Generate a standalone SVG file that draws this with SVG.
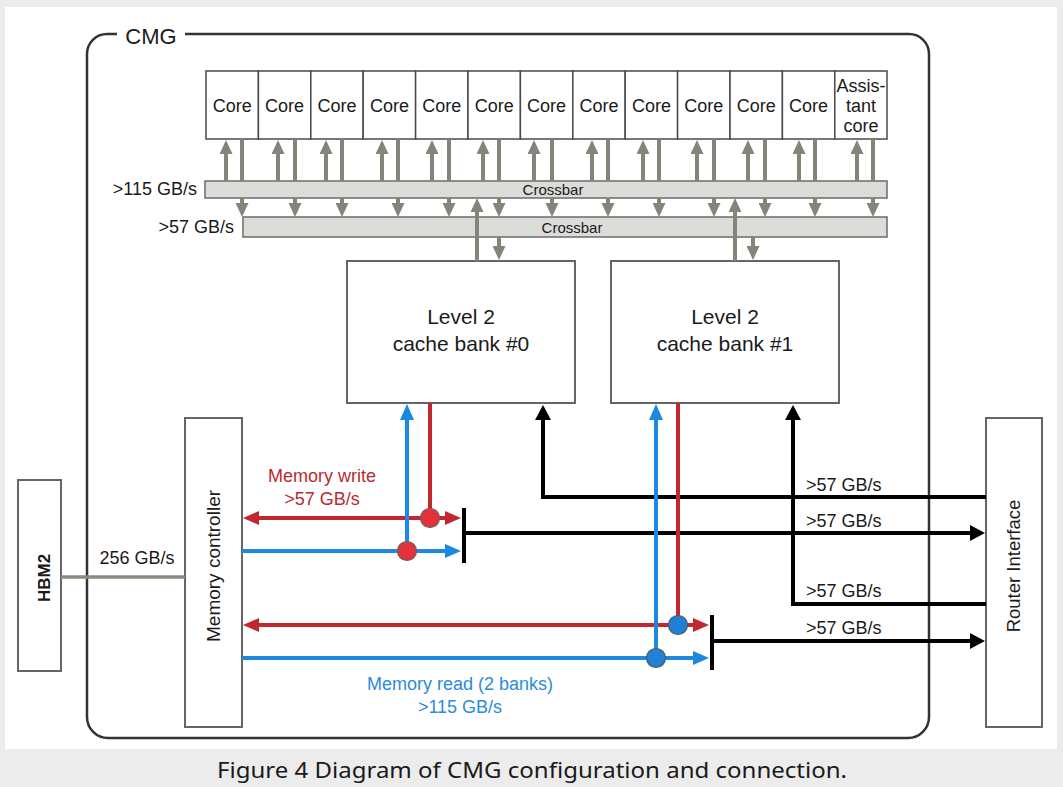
<svg xmlns="http://www.w3.org/2000/svg" width="1063" height="787" viewBox="0 0 1063 787">
<style>
  text { font-family: "Liberation Sans", Arial, sans-serif; fill: #1a1a1a; }
  .box { fill: #ffffff; stroke: #666666; stroke-width: 2; }
  .core { fill: #ffffff; stroke: #4a4a4a; stroke-width: 1.5; }
  .xbar { fill: #dcdcd9; stroke: #6b6b6b; stroke-width: 1.5; }
  .core-t { font-size: 18px; text-anchor: middle; }
  .lbl { font-size: 18px; }
  .g { fill: none; stroke: #84847b; stroke-width: 4; }
  .k { fill: none; stroke: #000000; stroke-width: 4; }
  .r { fill: none; stroke: #c1272d; stroke-width: 4; }
  .b { fill: none; stroke: #1d88e0; stroke-width: 4; }
  .ga { marker-end: url(#mg); }
  .ka { marker-end: url(#mk); }
  .ra { marker-end: url(#mr); }
  .ba { marker-end: url(#mb); }
  .rs { marker-start: url(#mrs); }
</style>
<defs>
  <marker id="mg" viewBox="0 0 14 13" refX="0" refY="6.5" markerWidth="14" markerHeight="13" markerUnits="userSpaceOnUse" orient="auto"><path d="M0,0 L14,6.5 L0,13 z" fill="#84847b"/></marker>
  <marker id="mk" viewBox="0 0 15 16" refX="0" refY="8" markerWidth="15" markerHeight="16" markerUnits="userSpaceOnUse" orient="auto"><path d="M0,0 L15,8 L0,16 z" fill="#000000"/></marker>
  <marker id="mr" viewBox="0 0 16 14" refX="0" refY="7" markerWidth="16" markerHeight="14" markerUnits="userSpaceOnUse" orient="auto"><path d="M0,0 L16,7 L0,14 z" fill="#c1272d"/></marker>
  <marker id="mrs" viewBox="0 0 16 14" refX="16" refY="7" markerWidth="16" markerHeight="14" markerUnits="userSpaceOnUse" orient="auto"><path d="M16,0 L0,7 L16,14 z" fill="#c1272d"/></marker>
  <marker id="mb" viewBox="0 0 16 14" refX="0" refY="7" markerWidth="16" markerHeight="14" markerUnits="userSpaceOnUse" orient="auto"><path d="M0,0 L16,7 L0,14 z" fill="#1d88e0"/></marker>
</defs>

<rect x="0" y="0" width="1063" height="787" fill="#ececec"/>
<rect x="5" y="7" width="1052" height="742" fill="#ffffff"/>

<g id="cmg">
  <path d="M117,34 H107 A20,20 0 0 0 87,54 V717 A21,21 0 0 0 108,738 H908 A21,21 0 0 0 929,717 V54 A20,20 0 0 0 909,34 H185" fill="none" stroke="#333333" stroke-width="2.5"/>
  <text x="151" y="44" font-size="22" text-anchor="middle">CMG</text>
</g>

<g id="cores">
  <g id="core-0"><rect class="core" x="206" y="71" width="52.4" height="68"/><text class="core-t" x="232.2" y="112">Core</text></g>
  <g id="core-1"><rect class="core" x="258.4" y="71" width="52.4" height="68"/><text class="core-t" x="284.6" y="112">Core</text></g>
  <g id="core-2"><rect class="core" x="310.8" y="71" width="52.4" height="68"/><text class="core-t" x="337" y="112">Core</text></g>
  <g id="core-3"><rect class="core" x="363.2" y="71" width="52.4" height="68"/><text class="core-t" x="389.4" y="112">Core</text></g>
  <g id="core-4"><rect class="core" x="415.6" y="71" width="52.4" height="68"/><text class="core-t" x="441.8" y="112">Core</text></g>
  <g id="core-5"><rect class="core" x="468" y="71" width="52.4" height="68"/><text class="core-t" x="494.2" y="112">Core</text></g>
  <g id="core-6"><rect class="core" x="520.4" y="71" width="52.4" height="68"/><text class="core-t" x="546.6" y="112">Core</text></g>
  <g id="core-7"><rect class="core" x="572.8" y="71" width="52.4" height="68"/><text class="core-t" x="599" y="112">Core</text></g>
  <g id="core-8"><rect class="core" x="625.2" y="71" width="52.4" height="68"/><text class="core-t" x="651.4" y="112">Core</text></g>
  <g id="core-9"><rect class="core" x="677.6" y="71" width="52.4" height="68"/><text class="core-t" x="703.8" y="112">Core</text></g>
  <g id="core-10"><rect class="core" x="730" y="71" width="52.4" height="68"/><text class="core-t" x="756.2" y="112">Core</text></g>
  <g id="core-11"><rect class="core" x="782.4" y="71" width="52.4" height="68"/><text class="core-t" x="808.6" y="112">Core</text></g>
  <g id="assistant-core"><rect class="core" x="834.8" y="71" width="52.2" height="68"/>
    <text class="core-t" x="861" y="92">Assis-</text><text class="core-t" x="861" y="112">tant</text><text class="core-t" x="861" y="132">core</text></g>
</g>

<g id="crossbar-1">
  <rect class="xbar" x="205" y="181" width="682" height="17"/>
  <text x="553" y="195" font-size="15" text-anchor="middle">Crossbar</text>
  <text class="lbl" x="197" y="195" text-anchor="end">&gt;115 GB/s</text>
</g>
<g id="crossbar-2">
  <rect class="xbar" x="243" y="217" width="644" height="20"/>
  <text x="572" y="233" font-size="15" text-anchor="middle">Crossbar</text>
  <text class="lbl" x="234" y="233" text-anchor="end">&gt;57 GB/s</text>
</g>

<g id="l2-bank-0">
  <rect class="box" x="347" y="261" width="228" height="142"/>
  <text x="461" y="324" font-size="21" text-anchor="middle">Level 2</text>
  <text x="461" y="351" font-size="21" text-anchor="middle">cache bank #0</text>
</g>
<g id="l2-bank-1">
  <rect class="box" x="611" y="261" width="228" height="142"/>
  <text x="725" y="324" font-size="21" text-anchor="middle">Level 2</text>
  <text x="725" y="351" font-size="21" text-anchor="middle">cache bank #1</text>
</g>

<g id="hbm2">
  <rect class="box" x="18" y="480" width="43" height="191"/>
  <text transform="translate(50,578) rotate(-90)" font-size="17" font-weight="bold" text-anchor="middle">HBM2</text>
</g>
<g id="memory-controller">
  <rect class="box" x="185" y="418" width="57" height="309"/>
  <text transform="translate(220,566) rotate(-90)" font-size="19" text-anchor="middle">Memory controller</text>
</g>
<g id="router-interface">
  <rect class="box" x="986" y="418" width="56" height="309"/>
  <text transform="translate(1020,566) rotate(-90)" font-size="18.5" text-anchor="middle">Router Interface</text>
</g>

<g id="connectors">
  <g class="g">
    <path class="ga" d="M226,181 V154"/><path class="ga" d="M278,181 V154"/><path class="ga" d="M326,181 V154"/>
    <path class="ga" d="M382,181 V154"/><path class="ga" d="M432,181 V154"/><path class="ga" d="M483,181 V154"/>
    <path class="ga" d="M534,181 V154"/><path class="ga" d="M592,181 V154"/><path class="ga" d="M643,181 V154"/>
    <path class="ga" d="M697,181 V154"/><path class="ga" d="M748,181 V154"/><path class="ga" d="M799,181 V154"/>
    <path class="ga" d="M857,181 V154"/>
  </g>
  <g class="g">
    <path d="M242,139 V181"/><path d="M295,139 V181"/><path d="M342,139 V181"/><path d="M398,139 V181"/>
    <path d="M449,139 V181"/><path d="M499,139 V181"/><path d="M552,139 V181"/><path d="M608,139 V181"/>
    <path d="M659,139 V181"/><path d="M714,139 V181"/><path d="M765,139 V181"/><path d="M815,139 V181"/>
    <path d="M873,139 V181"/>
    <path class="ga" d="M242,198 V203"/><path class="ga" d="M295,198 V203"/><path class="ga" d="M342,198 V203"/>
    <path class="ga" d="M398,198 V203"/><path class="ga" d="M449,198 V203"/><path class="ga" d="M499,198 V203"/>
    <path class="ga" d="M552,198 V203"/><path class="ga" d="M608,198 V203"/><path class="ga" d="M659,198 V203"/>
    <path class="ga" d="M714,198 V203"/><path class="ga" d="M765,198 V203"/><path class="ga" d="M815,198 V203"/>
    <path class="ga" d="M873,198 V203"/>
  </g>
  <g class="g">
    <path class="ga" d="M477,261 V212"/><path class="ga" d="M499,237 V246"/>
    <path class="ga" d="M735,261 V212"/><path class="ga" d="M753,237 V246"/>
  </g>
  <path d="M61,577 H185" fill="none" stroke="#8a8a80" stroke-width="3.5"/>
  <text class="lbl" x="137" y="564" text-anchor="middle">256 GB/s</text>

  <path class="k ka" d="M986,497 H543 V420"/>
  <path class="k ka" d="M986,604 H793 V420"/>
  <path class="k" d="M464,508 V563"/>
  <path class="k ka" d="M464,533 H970"/>
  <path class="k" d="M712,615 V670"/>
  <path class="k ka" d="M712,641 H970"/>
  <text class="lbl" x="806" y="491">&gt;57 GB/s</text>
  <text class="lbl" x="806" y="527">&gt;57 GB/s</text>
  <text class="lbl" x="806" y="597">&gt;57 GB/s</text>
  <text class="lbl" x="806" y="634">&gt;57 GB/s</text>

  <path class="r ra rs" d="M259,518 H445"/>
  <path class="r" d="M430,403 V518"/>
  <path class="b ba" d="M242,551 H445"/>
  <path class="b ba" d="M407,551 V420"/>
  <circle cx="430" cy="518" r="9.5" fill="#e3323a" stroke="#7a5a5a" stroke-width="1.2"/>
  <circle cx="407" cy="551" r="9.5" fill="#e3323a" stroke="#7a5a5a" stroke-width="1.2"/>
  <text x="322" y="482" font-size="18" text-anchor="middle" style="fill:#b92a31">Memory write</text>
  <text x="322" y="505" font-size="18" text-anchor="middle" style="fill:#b92a31">&gt;57 GB/s</text>

  <path class="r ra rs" d="M259,625 H693"/>
  <path class="r" d="M678,403 V625"/>
  <path class="b ba" d="M242,658 H693"/>
  <path class="b ba" d="M656,658 V420"/>
  <circle cx="678" cy="625" r="9.5" fill="#1f80d8" stroke="#555a60" stroke-width="1.2"/>
  <circle cx="656" cy="658" r="9.5" fill="#1f80d8" stroke="#555a60" stroke-width="1.2"/>
  <text x="460" y="690" font-size="18" text-anchor="middle" style="fill:#2a8be0">Memory read (2 banks)</text>
  <text x="460" y="713" font-size="18" text-anchor="middle" style="fill:#2a8be0">&gt;115 GB/s</text>
</g>

<text x="532" y="778" font-size="21" text-anchor="middle" textLength="630" lengthAdjust="spacingAndGlyphs" style="font-family:'Noto Sans','Open Sans',sans-serif">Figure 4 Diagram of CMG configuration and connection.</text>
</svg>
